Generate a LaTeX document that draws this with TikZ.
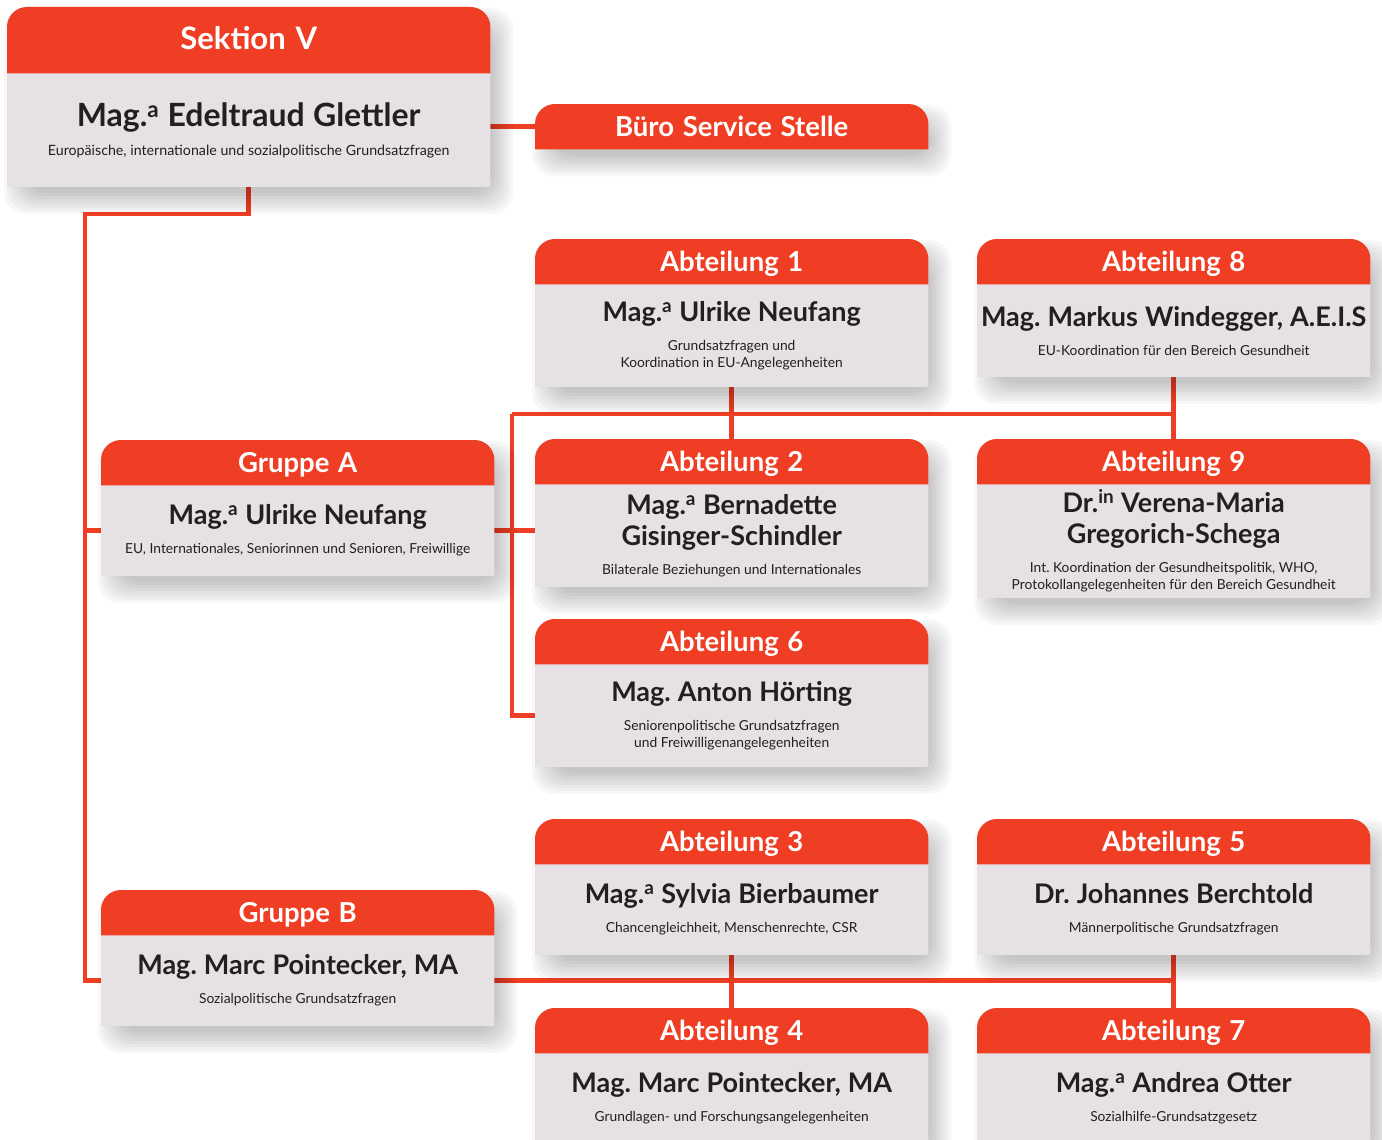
\documentclass[tikz,border=0pt]{standalone}
\usepackage{fontspec}
\setmainfont{Lato}[WordSpace=1.3]
\usetikzlibrary{positioning,backgrounds}
\definecolor{ored}{RGB}{239,62,35}
\definecolor{ograu}{RGB}{229,225,229}
\definecolor{otext}{RGB}{35,31,32}
\newcommand{\grossfont}{\fontsize{27}{31}\selectfont\bfseries\spaceskip=0.26em\xspaceskip=0.26em}
\newcommand{\kleinfont}{\fontsize{13.8}{17}\selectfont\spaceskip=0.26em\xspaceskip=0.26em}
\newcommand{\inhalt}[2]{{\grossfont #1\par}\vspace{12pt}{\kleinfont #2\par}}

\begin{document}
\begin{tikzpicture}[x=1pt,y=-1pt,
  kopf/.style={anchor=north west,minimum width=393pt,minimum height=45pt,inner sep=0pt,
    text=white,font=\fontsize{27.5}{31}\selectfont\bfseries,text height=20pt,text depth=0pt},
  feld/.style={text width=391pt,inner xsep=1pt,inner ysep=0pt,align=center,text=otext},
  linie/.style={draw=ored,line width=4.5pt},
  schatten/.style={fill=black,opacity=0.033,rounded corners=22pt}
]
\useasboundingbox (0,0) rectangle (1382,1140);

% Sektion und Buero
\node[kopf,minimum width=483pt,minimum height=66pt,font=\fontsize{31}{35}\selectfont\bfseries,text height=23pt,text depth=5pt] at (7,7) (ksek) {Sektion V};
\node[feld,below=0pt of ksek,text width=481pt,minimum height=113pt] (sek)
  {{\fontsize{32}{36}\selectfont\bfseries\spaceskip=0.26em Mag.\textsuperscript{a} Edeltraud Glettler\par}\vspace{12pt}{\fontsize{14.2}{17}\selectfont\spaceskip=0.26em Europäische, internationale und sozialpolitische Grundsatzfragen\par}};
\node[kopf] at (535,104) (kbss) {Büro Service Stelle};

% Gruppe A
\node[kopf] at (535,239) (ka1) {Abteilung 1};
\node[feld,below=0pt of ka1,minimum height=102pt] (a1)
  {\inhalt{Mag.\textsuperscript{a} Ulrike Neufang}{Grundsatzfragen und\\Koordination in EU-Angelegenheiten}};
\node[kopf] at (977,239) (ka8) {Abteilung 8};
\node[feld,below=0pt of ka8,minimum height=92pt] (a8)
  {\inhalt{Mag. Markus Windegger, A.E.I.S}{EU-Koordination für den Bereich Gesundheit}};
\node[kopf] at (101,440) (kga) {Gruppe A};
\node[feld,below=0pt of kga,minimum height=90pt] (ga)
  {\inhalt{Mag.\textsuperscript{a} Ulrike Neufang}{EU, Internationales, Seniorinnen und Senioren, Freiwillige}};
\node[kopf] at (535,439) (ka2) {Abteilung 2};
\node[feld,below=0pt of ka2,minimum height=102pt] (a2)
  {\inhalt{Mag.\textsuperscript{a} Bernadette\\Gisinger-Schindler}{Bilaterale Beziehungen und Internationales}};
\node[kopf] at (977,439) (ka9) {Abteilung 9};
\node[feld,below=0pt of ka9,minimum height=113pt] (a9)
  {\inhalt{Dr.\textsuperscript{in} Verena-Maria\\Gregorich-Schega}{Int. Koordination der Gesundheitspolitik, WHO,\\Protokollangelegenheiten für den Bereich Gesundheit}};
\node[kopf] at (535,619) (ka6) {Abteilung 6};
\node[feld,below=0pt of ka6,minimum height=102pt] (a6)
  {\inhalt{Mag. Anton Hörting}{Seniorenpolitische Grundsatzfragen\\und Freiwilligenangelegenheiten}};

% Gruppe B
\node[kopf] at (535,819) (ka3) {Abteilung 3};
\node[feld,below=0pt of ka3,minimum height=90pt] (a3)
  {\inhalt{Mag.\textsuperscript{a} Sylvia Bierbaumer}{Chancengleichheit, Menschenrechte, CSR}};
\node[kopf] at (977,819) (ka5) {Abteilung 5};
\node[feld,below=0pt of ka5,minimum height=90pt] (a5)
  {\inhalt{Dr. Johannes Berchtold}{Männerpolitische Grundsatzfragen}};
\node[kopf] at (101,890) (kgb) {Gruppe B};
\node[feld,below=0pt of kgb,minimum height=90pt] (gb)
  {\inhalt{Mag. Marc Pointecker, MA}{Sozialpolitische Grundsatzfragen}};
\node[kopf] at (535,1008) (ka4) {Abteilung 4};
\node[feld,below=0pt of ka4,minimum height=90pt] (a4)
  {\inhalt{Mag. Marc Pointecker, MA}{Grundlagen- und Forschungsangelegenheiten}};
\node[kopf] at (977,1008) (ka7) {Abteilung 7};
\node[feld,below=0pt of ka7,minimum height=90pt] (a7)
  {\inhalt{Mag.\textsuperscript{a} Andrea Otter}{Sozialhilfe-Grundsatzgesetz}};

\coordinate (knick) at (85,214);
\coordinate (ast) at (512,414);

\begin{scope}[on background layer]
% Verbindungen
\draw[linie] (sek.east |- kbss.west) -- (kbss.west);
\draw[linie] (sek.south) |- (knick) |- (gb.west);
\draw[linie] (knick |- ga.west) -- (ga.west);
\draw[linie] (ga.east) -- (ga.east -| a2.west);
\draw[linie] (ast) |- (a6.west);
\draw[linie] (ast) -| (a8.south);
\draw[linie] (a1.south) -- (ka2.north);
\draw[linie] (a8.south) -- (ka9.north);
\draw[linie] (gb.east) -- (gb.east -| a5.south);
\draw[linie] (a3.south) -- (ka4.north);
\draw[linie] (a5.south) -- (ka7.north);

% Karten mit weichem Schatten
\foreach \n in {sek,a1,a8,ga,a2,a9,a6,a3,a5,gb,a4,a7}{
  \foreach \e in {2,5,...,23}
    \fill[schatten] ([shift={(20-\e,4+\e)}]\n.south west) rectangle ([shift={(\e,24-\e)}]k\n.north east);
  \fill[ograu,rounded corners=20pt] (\n.south west) |- (k\n.north) -| (\n.south east);
  \fill[ored,rounded corners=20pt] (k\n.south west) |- (k\n.north) -| (k\n.south east);
}
\foreach \e in {2,5,...,23}
  \fill[schatten] ([shift={(20-\e,4+\e)}]kbss.south west) rectangle ([shift={(\e,24-\e)}]kbss.north east);
\fill[ored,rounded corners=20pt] (kbss.south west) |- (kbss.north) -| (kbss.south east);
\end{scope}
\end{tikzpicture}
\end{document}
